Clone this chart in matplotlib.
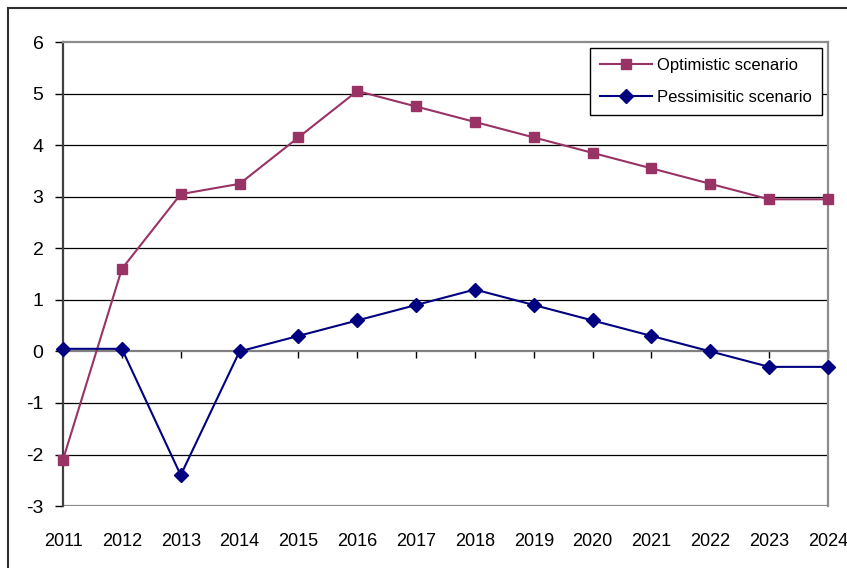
import matplotlib.pyplot as plt
from matplotlib.lines import Line2D

plt.rcParams['font.family'] = ['Liberation Sans', 'DejaVu Sans']
plt.rcParams['axes.unicode_minus'] = False

years = list(range(2011, 2025))
optimistic = [-2.1, 1.6, 3.05, 3.25, 4.15, 5.05, 4.75, 4.45, 4.15, 3.85, 3.55, 3.25, 2.95, 2.95]
pessimistic = [0.05, 0.05, -2.4, 0.0, 0.3, 0.6, 0.9, 1.2, 0.9, 0.6, 0.3, 0.0, -0.3, -0.3]
y_ticks = list(range(-3, 7))

fig = plt.figure(figsize=(8.47, 5.68), dpi=100)
ax = fig.add_axes([0.0744, 0.109, 0.9032, 0.817])

# horizontal grid, black like the old spreadsheet charts
for v in y_ticks:
    if v in (-3, 0, 6):
        continue
    ax.axhline(v, color='black', lw=0.9, zorder=1)
ax.axhline(-3, color='#8c8c8c', lw=1.6, zorder=1)

ax.plot(years, optimistic, color='#993366', lw=1.5, marker='s', markersize=7,
        label='Optimistic scenario', clip_on=False, zorder=3)
ax.plot(years, pessimistic, color='#000080', lw=1.5, marker='D', markersize=7,
        label='Pessimisitic scenario', clip_on=False, zorder=3)

ax.set_xlim(2011, 2024)
ax.set_ylim(-3, 6)
ax.set_yticks(y_ticks)
ax.set_xticks(years)

ax.spines['bottom'].set_position(('data', 0))
ax.spines['bottom'].set_color('#808080')
ax.spines['bottom'].set_linewidth(1.6)
ax.spines['left'].set_color('#404040')
ax.spines['left'].set_linewidth(1.6)
for s in ('top', 'right'):
    ax.spines[s].set_color('#8c8c8c')
    ax.spines[s].set_linewidth(1.6)

ax.tick_params(axis='x', direction='out', length=5, width=1, color='black',
               labelbottom=False)
ax.tick_params(axis='y', direction='out', length=6, width=1, color='black',
               labelsize=14, pad=8)

# year labels sit below the plot area, not on the zero line
sec = ax.secondary_xaxis(-0.057)
sec.set_xticks(years)
sec.spines['bottom'].set_visible(False)
sec.tick_params(length=0, labelsize=13, pad=0)

ax.legend(loc='upper right', bbox_to_anchor=(822 / 847, 1 - 48 / 568),
          bbox_transform=fig.transFigure, borderaxespad=0, fancybox=False,
          edgecolor='black', framealpha=1, fontsize=12, handlelength=3.1,
          borderpad=0.6, labelspacing=1.0, handletextpad=0.3)

# outer frame of the chart
fig.add_artist(Line2D([8 / 847, 8 / 847], [0, 1 - 8 / 568], color='#303030', lw=1.5))
fig.add_artist(Line2D([8 / 847, 1], [1 - 8 / 568, 1 - 8 / 568], color='#303030', lw=1.5))

fig.savefig('out.png', dpi=100)
